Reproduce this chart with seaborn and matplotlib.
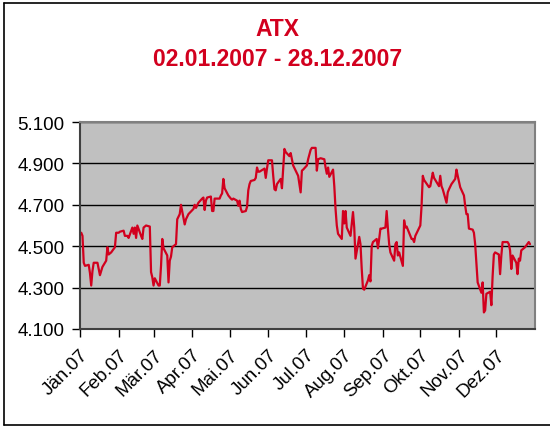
import pandas as pd
import matplotlib.pyplot as plt
from matplotlib.lines import Line2D
from matplotlib.ticker import FuncFormatter
import seaborn as sns

# ATX closing values 2007
dates = ["01-02", "01-03", "01-04", "01-05", "01-08", "01-09", "01-10", "01-11", "01-12", "01-15",
         "01-16", "01-17", "01-18", "01-19", "01-22", "01-23", "01-24", "01-26", "01-29", "01-30",
         "02-01", "02-02", "02-05", "02-06", "02-08", "02-09", "02-12", "02-13", "02-14", "02-15",
         "02-16", "02-19", "02-20", "02-21", "02-23", "02-26", "02-27", "02-28", "03-01", "03-02",
         "03-05", "03-06", "03-07", "03-08", "03-09", "03-12", "03-13", "03-14", "03-15", "03-16",
         "03-19", "03-20", "03-22", "03-23", "03-26", "03-27", "03-29", "04-02", "04-03", "04-04",
         "04-06", "04-09", "04-10", "04-11", "04-12", "04-13", "04-16", "04-17", "04-18", "04-19",
         "04-23", "04-24", "04-25", "04-26", "04-27", "04-30", "05-02", "05-03", "05-04", "05-07",
         "05-08", "05-09", "05-10", "05-11", "05-14", "05-15", "05-16", "05-17", "05-18", "05-21",
         "05-22", "05-23", "05-24", "05-25", "05-29", "05-30", "05-31", "06-01", "06-04", "06-05",
         "06-06", "06-07", "06-08", "06-11", "06-12", "06-13", "06-14", "06-15", "06-18", "06-19",
         "06-21", "06-25", "06-26", "06-27", "06-28", "06-29", "07-02", "07-03", "07-05", "07-06",
         "07-09", "07-10", "07-11", "07-13", "07-16", "07-17", "07-18", "07-19", "07-20", "07-23",
         "07-24", "07-25", "07-26", "07-27", "07-30", "07-31", "08-01", "08-02", "08-03", "08-06",
         "08-07", "08-08", "08-09", "08-10", "08-13", "08-14", "08-15", "08-16", "08-17", "08-20",
         "08-21", "08-22", "08-23", "08-24", "08-27", "08-28", "08-29", "08-30", "08-31", "09-03",
         "09-04", "09-05", "09-06", "09-07", "09-10", "09-11", "09-12", "09-13", "09-14", "09-17",
         "09-18", "09-19", "09-20", "09-24", "09-25", "09-26", "09-27", "10-01", "10-02", "10-03",
         "10-04", "10-08", "10-09", "10-11", "10-12", "10-15", "10-16", "10-17", "10-18", "10-19",
         "10-22", "10-23", "10-24", "10-26", "10-29", "10-30", "10-31", "11-02", "11-05", "11-06",
         "11-07", "11-08", "11-09", "11-12", "11-13", "11-14", "11-15", "11-16", "11-19", "11-20",
         "11-21", "11-22", "11-23", "11-26", "11-27", "11-28", "11-29", "11-30", "12-03", "12-04",
         "12-05", "12-06", "12-10", "12-11", "12-12", "12-13", "12-14", "12-17", "12-18", "12-19",
         "12-20", "12-21", "12-24", "12-27", "12-28"]

values = [4565, 4550, 4420, 4405, 4410, 4370, 4310, 4380, 4420, 4420,
          4390, 4360, 4380, 4400, 4430, 4495, 4460, 4470, 4495, 4565,
          4565, 4570, 4575, 4550, 4550, 4540, 4590, 4560, 4590, 4540,
          4600, 4550, 4535, 4590, 4600, 4595, 4375, 4350, 4310, 4345,
          4310, 4310, 4405, 4535, 4490, 4455, 4325, 4430, 4450, 4495,
          4510, 4630, 4655, 4700, 4605, 4630, 4655, 4680, 4700, 4685,
          4710, 4730, 4735, 4675, 4720, 4735, 4740, 4670, 4670, 4730,
          4730, 4745, 4755, 4825, 4780, 4745, 4730, 4725, 4730, 4720,
          4695, 4720, 4680, 4665, 4670, 4690, 4770, 4800, 4815, 4820,
          4830, 4880, 4860, 4860, 4875, 4830, 4875, 4915, 4915, 4840,
          4775, 4770, 4800, 4825, 4780, 4875, 4970, 4955, 4935, 4950,
          4890, 4840, 4800, 4760, 4865, 4870, 4890, 4920, 4965, 4975,
          4975, 4865, 4920, 4925, 4920, 4880, 4850, 4880, 4835, 4870,
          4790, 4680, 4600, 4560, 4535, 4670, 4610, 4670, 4590, 4550,
          4610, 4665, 4590, 4440, 4545, 4510, 4390, 4295, 4290, 4335,
          4360, 4330, 4500, 4520, 4535, 4490, 4535, 4585, 4585, 4590,
          4670, 4585, 4510, 4470, 4430, 4510, 4520, 4455, 4470, 4405,
          4625, 4590, 4595, 4535, 4535, 4520, 4550, 4600, 4695, 4840,
          4820, 4785, 4790, 4855, 4830, 4800, 4790, 4840, 4790, 4775,
          4710, 4760, 4775, 4800, 4825, 4870, 4840, 4785, 4745, 4695,
          4655, 4655, 4585, 4580, 4565, 4510, 4420, 4325, 4275, 4325,
          4180, 4190, 4270, 4280, 4215, 4355, 4460, 4470, 4460, 4365,
          4455, 4520, 4520, 4510, 4480, 4390, 4455, 4420, 4365, 4440,
          4430, 4480, 4495, 4520, 4510]

month_labels = ["Jän.07", "Feb.07", "Mär.07", "Apr.07", "Mai.07", "Jun.07",
                "Jul.07", "Aug.07", "Sep.07", "Okt.07", "Nov.07", "Dez.07"]

df = pd.DataFrame({"Datum": pd.to_datetime(["2007-" + d for d in dates]), "ATX": values})

sns.set_style("white")
plt.rcParams["font.family"] = ["Liberation Sans", "DejaVu Sans"]

red = "#D2001E"
fig = plt.figure(figsize=(5.5, 4.27), dpi=100)
ax = fig.add_axes([80 / 550, 1 - 330 / 427, 455 / 550, 207 / 427])
ax.set_facecolor("#C0C0C0")

sns.lineplot(data=df, x="Datum", y="ATX", color=red, linewidth=1.6, ax=ax)

ax.set_xlim(pd.Timestamp("2007-01-01"), pd.Timestamp("2008-01-01"))
ax.set_ylim(4100, 5100)
ax.set_yticks(range(4100, 5101, 200))
ax.yaxis.set_major_formatter(FuncFormatter(lambda v, p: f"{v:,.0f}".replace(",", ".")))
ax.grid(axis="y", color="black", linewidth=1)
ax.set_axisbelow(True)

ax.set_xticks(pd.date_range("2007-01-01", periods=12, freq="MS"))
ax.set_xticklabels(month_labels)
for lab in ax.get_xticklabels():
    lab.set_rotation(45)
    lab.set_ha("right")
    lab.set_rotation_mode("anchor")

ax.tick_params(axis="both", direction="out", length=6, width=1, color="black",
               labelsize=13.5, labelcolor="black", bottom=True, left=True)
ax.tick_params(axis="x", pad=6)
ax.tick_params(axis="y", pad=5)
ax.set_xlabel("")
ax.set_ylabel("")

for side in ["top", "right"]:
    ax.spines[side].set_color("#808080")
    ax.spines[side].set_linewidth(1.5)
for side in ["left", "bottom"]:
    ax.spines[side].set_color("#404040")
    ax.spines[side].set_linewidth(1.5)

fig.text(0.505, 1 - 18 / 427, "ATX\n02.01.2007 - 28.12.2007", ha="center", va="top",
         color=red, fontsize=16.5, fontweight="bold", linespacing=1.4)

# outer chart frame (left, top, bottom)
fx0, fy0, fy1 = 4 / 550, 1 - 426 / 427, 1 - 4 / 427
for xs, ys in [([fx0, fx0], [fy0, fy1]), ([fx0, 1.0], [fy1, fy1]), ([fx0, 1.0], [fy0, fy0])]:
    fig.add_artist(Line2D(xs, ys, color="black", linewidth=1.2))

fig.savefig("out.png", dpi=100, facecolor="white")
